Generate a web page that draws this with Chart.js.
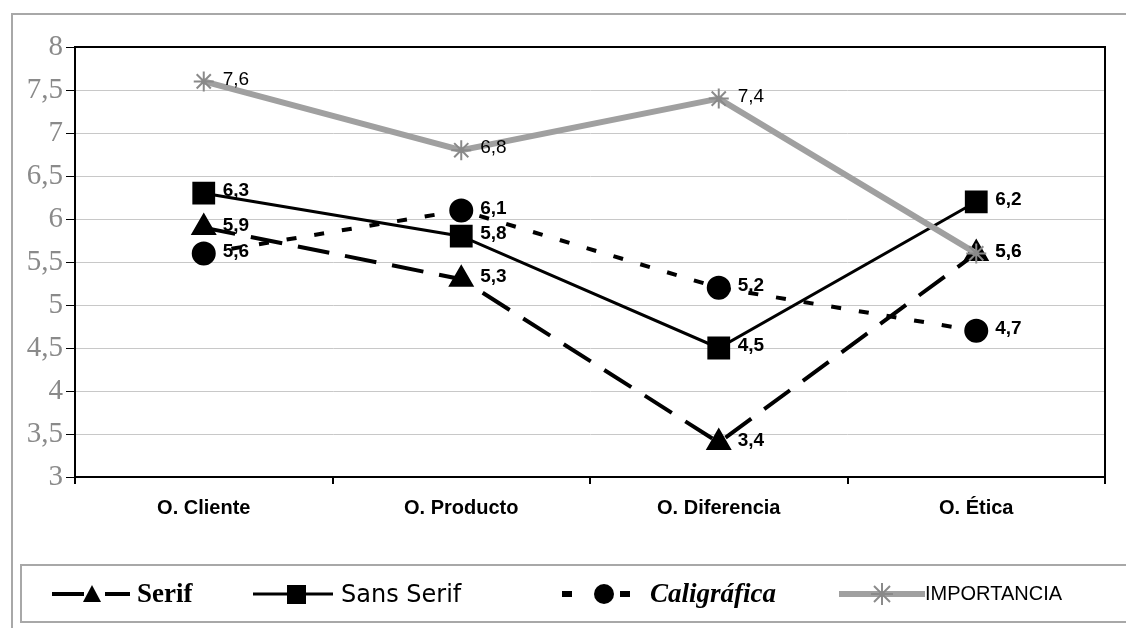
<!DOCTYPE html>
<html>
<head>
<meta charset="utf-8">
<script src="https://cdn.jsdelivr.net/npm/chart.js@4/dist/chart.umd.min.js"></script>
<style>
  body { margin: 0; background: #fff; overflow: hidden; }
  #wrap { position: relative; width: 1126px; height: 628px; }
  #frame { position: absolute; left: 11px; top: 13px; width: 1130px; height: 640px; border: 2px solid #a8a8a8; box-sizing: border-box; }
  #chart { position: absolute; left: 0; top: 0; }
  #legend { position: absolute; left: 20px; top: 564px; width: 1130px; height: 59px; border: 2px solid #a8a8a8; box-sizing: border-box; }
  .item { position: absolute; top: 0; height: 55px; display: flex; align-items: center; }
  .item svg { display: block; }
</style>
</head>
<body>
<div id="wrap">
  <div id="frame"></div>
  <canvas id="chart" width="1126" height="628"></canvas>
  <div id="legend">
    <div class="item" style="left:30px">
      <svg width="85" height="30"><line x1="0" y1="15" x2="32" y2="15" stroke="#000" stroke-width="4"/><polygon points="40,6 31,23 49,23" fill="#000"/><line x1="53" y1="15" x2="78" y2="15" stroke="#000" stroke-width="4"/></svg>
      <span style="font:bold 27px 'Liberation Serif', serif; margin-left:0px">Serif</span>
    </div>
    <div class="item" style="left:231px">
      <svg width="88" height="30"><line x1="0" y1="15" x2="80" y2="15" stroke="#000" stroke-width="3"/><rect x="34" y="6" width="19" height="19" fill="#000"/></svg>
      <span style="font:24px 'DejaVu Sans', sans-serif; margin-left:0px">Sans Serif</span>
    </div>
    <div class="item" style="left:540px">
      <svg width="88" height="30"><line x1="0" y1="15" x2="10" y2="15" stroke="#000" stroke-width="6"/><circle cx="42" cy="15" r="10" fill="#000"/><line x1="58" y1="15" x2="68" y2="15" stroke="#000" stroke-width="6"/></svg>
      <span style="font:italic bold 27px 'Liberation Serif', serif">Caligráfica</span>
    </div>
    <div class="item" style="left:817px">
      <svg width="86" height="30"><line x1="0" y1="15" x2="86" y2="15" stroke="#a0a0a0" stroke-width="6"/><g stroke="#8a8a8a" stroke-width="2"><line x1="43" y1="4" x2="43" y2="26"/><line x1="32" y1="15" x2="54" y2="15"/><line x1="35" y1="7" x2="51" y2="23"/><line x1="51" y1="7" x2="35" y2="23"/></g></svg>
      <span style="font:20px 'Liberation Sans', Arial, sans-serif">IMPORTANCIA</span>
    </div>
  </div>
</div>
<script>
const categories = ["O. Cliente", "O. Producto", "O. Diferencia", "O. Ética"];
const serif = [5.9, 5.3, 3.4, 5.6];
const sansSerif = [6.3, 5.8, 4.5, 6.2];
const caligrafica = [5.6, 6.1, 5.2, 4.7];
const importancia = [7.6, 6.8, 7.4, 5.6];

const fmt = v => String(v).replace(".", ",");

// value labels to the right of each point
const labelPlugin = {
    id: "valueLabels",
    afterDatasetsDraw(chart) {
        const ctx = chart.ctx;
        ctx.save();
        chart.data.datasets.forEach((ds, i) => {
            const meta = chart.getDatasetMeta(i);
            ctx.font = ds.label === "IMPORTANCIA" ? "19px 'Liberation Sans', Arial" : "bold 19px 'Liberation Sans', Arial";
            ctx.fillStyle = "#000";
            ctx.textBaseline = "middle";
            meta.data.forEach((pt, j) => {
                ctx.fillText(fmt(ds.data[j]), pt.x + 19, pt.y - 2);
            });
        });
        ctx.restore();
    }
};

// black frame round the plot area
const framePlugin = {
    id: "plotFrame",
    afterDraw(chart) {
        const a = chart.chartArea;
        const ctx = chart.ctx;
        ctx.save();
        ctx.strokeStyle = "#000";
        ctx.lineWidth = 2;
        ctx.strokeRect(a.left, a.top, a.right - a.left, a.bottom - a.top);
        ctx.restore();
    }
};

new Chart(document.getElementById("chart"), {
    type: "line",
    data: {
        labels: categories,
        datasets: [
            {
                label: "Serif",
                data: serif,
                borderColor: "#000",
                backgroundColor: "#000",
                borderWidth: 4,
                borderDash: [32, 16],
                pointStyle: "triangle",
                pointRadius: 11,
                order: 3
            },
            {
                label: "Sans Serif",
                data: sansSerif,
                borderColor: "#000",
                backgroundColor: "#000",
                borderWidth: 3,
                pointStyle: "rect",
                pointRadius: 14,
                order: 2
            },
            {
                label: "Caligráfica",
                data: caligrafica,
                borderColor: "#000",
                backgroundColor: "#000",
                borderWidth: 4,
                borderDash: [10, 18],
                pointStyle: "circle",
                pointRadius: 10,
                order: 1
            },
            {
                label: "IMPORTANCIA",
                data: importancia,
                borderColor: "#a0a0a0",
                backgroundColor: "#8a8a8a",
                borderWidth: 6,
                pointStyle: "star",
                pointRadius: 10,
                pointBorderColor: "#8a8a8a",
                pointBorderWidth: 2,
                order: 0
            }
        ]
    },
    options: {
        responsive: false,
        animation: false,
        layout: { padding: { top: 47, right: 21, bottom: 91, left: 0 } },
        plugins: {
            legend: { display: false },
            tooltip: { enabled: false }
        },
        scales: {
            x: {
                offset: true,
                afterFit: s => { s.height = 60; },
                grid: { offset: true, drawOnChartArea: false, color: "#000", tickLength: 7, lineWidth: 2 },
                border: { color: "#000", width: 2 },
                ticks: { color: "#000", padding: 12, font: { family: "'Liberation Sans', Arial", size: 20, weight: "bold" } }
            },
            y: {
                min: 3,
                max: 8,
                afterFit: s => { s.width = 75; },
                grid: { color: "#c8c8c8", tickColor: "#000", tickLength: 9, lineWidth: 1 },
                border: { color: "#000", width: 2 },
                ticks: {
                    stepSize: 0.5,
                    color: "#8a8a8a",
                    padding: 3,
                    font: { family: "'Liberation Serif', serif", size: 29 },
                    callback: v => fmt(v)
                }
            }
        }
    },
    plugins: [labelPlugin, framePlugin]
});
</script>
</body>
</html>
